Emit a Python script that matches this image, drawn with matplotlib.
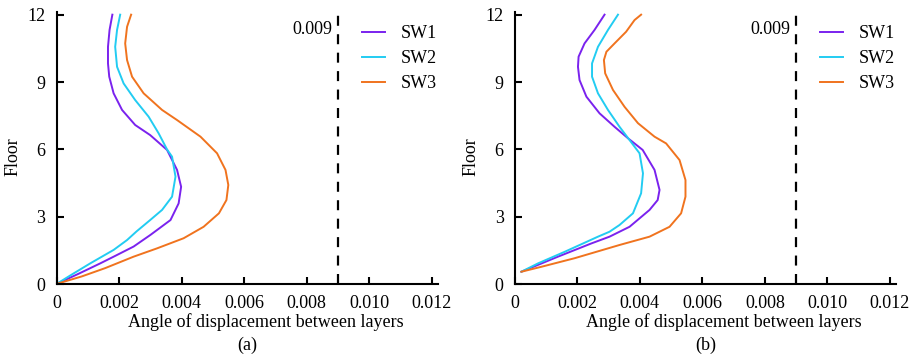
import numpy as np
import matplotlib
matplotlib.use("Agg")
import matplotlib.pyplot as plt

plt.rcParams["font.family"] = ["Liberation Serif", "DejaVu Serif"]
plt.rcParams["font.size"] = 13

# panel (a): angle (x) vs floor (y)
a_sw1_x = [0.00178, 0.00169, 0.00164, 0.00164, 0.00168, 0.00182, 0.00209, 0.00251, 0.00299, 0.00353,
           0.00385, 0.00398, 0.0039, 0.00364, 0.003, 0.00246, 0.00185, 0.00139, 0.0007, 0.0]
a_sw1_y = [12.0, 11.32, 10.57, 9.83, 9.24, 8.5, 7.76, 7.09, 6.64, 5.98,
           5.09, 4.34, 3.6, 2.86, 2.2, 1.68, 1.25, 0.93, 0.47, 0.02]
a_sw2_x = [0.00203, 0.00193, 0.00187, 0.00193, 0.00214, 0.00251, 0.00294, 0.00326, 0.00353, 0.00369,
           0.0038, 0.00369, 0.00337, 0.00299, 0.00255, 0.00225, 0.00182, 0.00107, 0.0005, 0.0]
a_sw2_y = [12.0, 11.32, 10.57, 9.68, 8.94, 8.2, 7.46, 6.72, 6.0, 5.68,
           4.79, 3.9, 3.31, 2.86, 2.35, 1.97, 1.53, 0.93, 0.45, 0.02]
a_sw3_x = [0.00238, 0.00225, 0.00219, 0.00225, 0.00241, 0.00278, 0.00337, 0.00385, 0.0046, 0.00513,
           0.0054, 0.00549, 0.00543, 0.00519, 0.0047, 0.00406, 0.00321, 0.00246, 0.00155, 0.0008, 0.0]
a_sw3_y = [12.0, 11.46, 10.72, 9.98, 9.24, 8.5, 7.76, 7.31, 6.57, 5.83,
           5.09, 4.42, 3.75, 3.16, 2.56, 2.05, 1.6, 1.23, 0.72, 0.35, 0.02]

# panel (b)
b_sw1_x = [0.00287, 0.00255, 0.00223, 0.00204, 0.00202, 0.00207, 0.00229, 0.00271, 0.00319, 0.00362,
           0.00409, 0.00447, 0.00463, 0.00457, 0.00431, 0.00367, 0.00303, 0.00245, 0.00138, 0.00021]
b_sw1_y = [12.0, 11.32, 10.72, 10.13, 9.68, 9.09, 8.35, 7.61, 7.01, 6.5,
           5.98, 5.09, 4.2, 3.75, 3.31, 2.56, 2.12, 1.82, 1.23, 0.56]
b_sw2_x = [0.0033, 0.00298, 0.00266, 0.00247, 0.00247, 0.00266, 0.00298, 0.00335, 0.00367, 0.00399,
           0.0041, 0.00404, 0.00378, 0.00335, 0.00303, 0.00266, 0.0016, 0.00074, 0.00021]
b_sw2_y = [12.0, 11.32, 10.57, 9.83, 9.24, 8.5, 7.76, 7.01, 6.42, 5.83,
           4.94, 4.05, 3.16, 2.64, 2.34, 2.12, 1.45, 0.93, 0.56]
b_sw3_x = [0.00404, 0.00383, 0.00356, 0.00319, 0.00293, 0.00285, 0.00289, 0.00314, 0.00351, 0.00394,
           0.00447, 0.00484, 0.00527, 0.00546, 0.00546, 0.00532, 0.00495, 0.00431, 0.00335, 0.00191,
           0.00085, 0.00021]
b_sw3_y = [12.0, 11.76, 11.24, 10.72, 10.35, 9.98, 9.39, 8.65, 7.9, 7.17,
           6.57, 6.27, 5.53, 4.64, 3.9, 3.16, 2.56, 2.12, 1.75, 1.16,
           0.78, 0.56]

limit = 0.009
x_ticks = [0, 0.002, 0.004, 0.006, 0.008, 0.010, 0.012]
x_labels = ["0", "0.002", "0.004", "0.006", "0.008", "0.010", "0.012"]
y_ticks = [0, 3, 6, 9, 12]
names = ["SW1", "SW2", "SW3"]
colors = ["#7A22EE", "#22CCF2", "#F0731E"]

panels = [
    ("(a)", [(a_sw1_x, a_sw1_y), (a_sw2_x, a_sw2_y), (a_sw3_x, a_sw3_y)]),
    ("(b)", [(b_sw1_x, b_sw1_y), (b_sw2_x, b_sw2_y), (b_sw3_x, b_sw3_y)]),
]
lefts = [0.0616, 0.559]

fig = plt.figure(figsize=(9.21, 3.56), dpi=100)
for (tag, series), left in zip(panels, lefts):
    ax = fig.add_axes([left, 0.2014, 0.414, 0.7656])
    for (xs, ys), name, c in zip(series, names, colors):
        ax.plot(xs, ys, color=c, lw=1.4, label=name, solid_joinstyle="round")
    ax.axvline(limit, color="black", lw=1.6, ls=(0, (4.5, 3.8)))
    ax.text(limit - 0.00017, 11.35, "0.009", ha="right", va="center")
    ax.set_xlim(0, 0.0122)
    ax.set_ylim(0, 12.13)
    ax.set_xticks(x_ticks)
    ax.set_xticklabels(x_labels)
    ax.set_yticks(y_ticks)
    ax.tick_params(direction="in", length=5, width=1.5)
    ax.tick_params(axis="x", pad=8)
    ax.tick_params(axis="y", pad=8)
    for s in ["top", "right"]:
        ax.spines[s].set_visible(False)
    for s in ["left", "bottom"]:
        ax.spines[s].set_linewidth(1.5)
    ax.set_xlabel("Angle of displacement between layers")
    ax.xaxis.set_label_coords(0.548, -0.105)
    ax.set_ylabel("Floor")
    ax.yaxis.set_label_coords(-0.092, 0.467)
    ax.text(0.5, -0.223, tag, transform=ax.transAxes, ha="center", va="center")
    ax.legend(loc="upper left", bbox_to_anchor=(0.80, 0.952), frameon=False,
              borderpad=0, borderaxespad=0, handlelength=1.27,
              handletextpad=0.9, labelspacing=0.45)

fig.savefig("out.png", dpi=100)
